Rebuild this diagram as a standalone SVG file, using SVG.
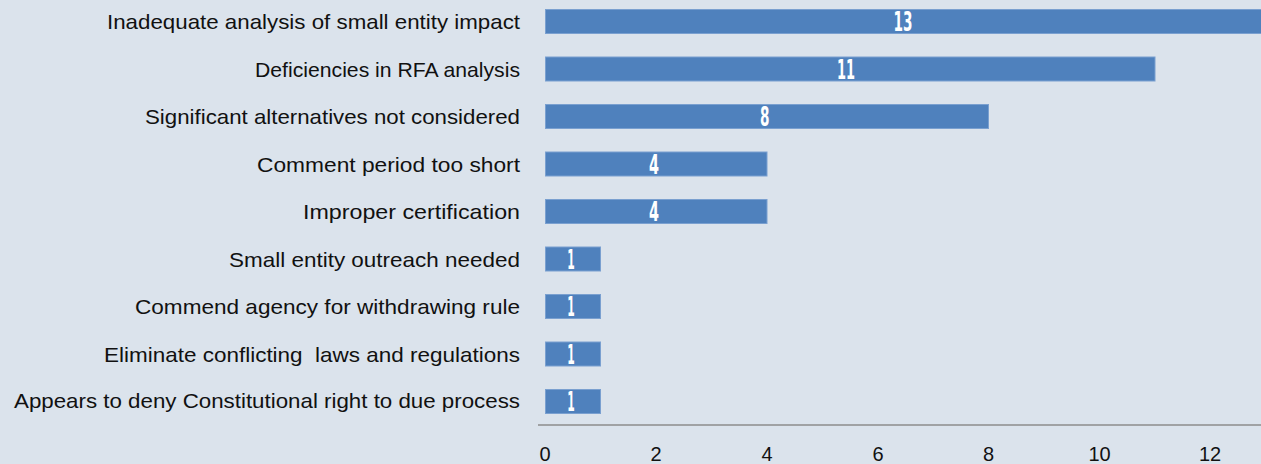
<svg xmlns="http://www.w3.org/2000/svg" width="1261" height="464" viewBox="0 0 1261 464">
<style>
.bg{fill:#dbe3ec}
.bar{fill:#4f81bd;stroke:#7aa0d0;stroke-width:1}
.lbl{font-family:"Liberation Sans",Arial,sans-serif;font-size:21px;fill:#111;text-anchor:end}
.val{font-family:"DejaVu Sans Condensed","Liberation Sans",sans-serif;font-weight:bold;font-size:26px;fill:#fff;text-anchor:middle}
.tick{font-family:"Liberation Sans",Arial,sans-serif;font-size:20px;fill:#111;text-anchor:middle}
.axis{stroke:#8c8c8c;stroke-width:1.5;fill:none}
</style>
<rect class="bg" x="0" y="0" width="1261" height="464"/>
<g id="axis">
<line class="axis" x1="538" y1="425" x2="1261" y2="425"/>
<text class="tick" x="545" y="461">0</text>
<text class="tick" x="656" y="461">2</text>
<text class="tick" x="767" y="461">4</text>
<text class="tick" x="878" y="461">6</text>
<text class="tick" x="988.5" y="461">8</text>
<text class="tick" x="1099.5" y="461">10</text>
<text class="tick" x="1210" y="461">12</text>
</g>
<g id="row1">
<rect class="bar" x="545.5" y="9.5" width="725" height="24"/>
<text class="lbl" x="520" y="29" textLength="413" lengthAdjust="spacingAndGlyphs">Inadequate analysis of small entity impact</text>
<text class="val" x="903" y="31" textLength="19" lengthAdjust="spacingAndGlyphs">13</text>
</g>
<g id="row2">
<rect class="bar" x="545.5" y="57" width="609.5" height="24"/>
<text class="lbl" x="520" y="76.5" textLength="265" lengthAdjust="spacingAndGlyphs">Deficiencies in RFA analysis</text>
<text class="val" x="846" y="78.5" textLength="18" lengthAdjust="spacingAndGlyphs">11</text>
</g>
<g id="row3">
<rect class="bar" x="545.5" y="104.5" width="443" height="24"/>
<text class="lbl" x="520" y="124" textLength="375" lengthAdjust="spacingAndGlyphs">Significant alternatives not considered</text>
<text class="val" x="764.7" y="126" textLength="9.5" lengthAdjust="spacingAndGlyphs">8</text>
</g>
<g id="row4">
<rect class="bar" x="545.5" y="152" width="221.5" height="24"/>
<text class="lbl" x="520" y="171.5" textLength="263" lengthAdjust="spacingAndGlyphs">Comment period too short</text>
<text class="val" x="654" y="173.5" textLength="10" lengthAdjust="spacingAndGlyphs">4</text>
</g>
<g id="row5">
<rect class="bar" x="545.5" y="199.5" width="221.5" height="24"/>
<text class="lbl" x="520" y="219" textLength="217" lengthAdjust="spacingAndGlyphs">Improper certification</text>
<text class="val" x="654" y="221" textLength="10" lengthAdjust="spacingAndGlyphs">4</text>
</g>
<g id="row6">
<rect class="bar" x="545.5" y="247" width="55" height="24"/>
<text class="lbl" x="520" y="266.5" textLength="291" lengthAdjust="spacingAndGlyphs">Small entity outreach needed</text>
<text class="val" x="571" y="268.5" textLength="7.5" lengthAdjust="spacingAndGlyphs">1</text>
</g>
<g id="row7">
<rect class="bar" x="545.5" y="294.5" width="55" height="24"/>
<text class="lbl" x="520" y="314" textLength="385" lengthAdjust="spacingAndGlyphs">Commend agency for withdrawing rule</text>
<text class="val" x="571" y="316" textLength="7.5" lengthAdjust="spacingAndGlyphs">1</text>
</g>
<g id="row8">
<rect class="bar" x="545.5" y="342" width="55" height="24"/>
<text class="lbl" x="520" y="361.5" textLength="416" lengthAdjust="spacingAndGlyphs" xml:space="preserve">Eliminate conflicting  laws and regulations</text>
<text class="val" x="571" y="363.5" textLength="7.5" lengthAdjust="spacingAndGlyphs">1</text>
</g>
<g id="row9">
<rect class="bar" x="545.5" y="389.5" width="55" height="24"/>
<text class="lbl" x="520" y="408" textLength="506" lengthAdjust="spacingAndGlyphs">Appears to deny Constitutional right to due process</text>
<text class="val" x="571" y="411" textLength="7.5" lengthAdjust="spacingAndGlyphs">1</text>
</g>
</svg>
